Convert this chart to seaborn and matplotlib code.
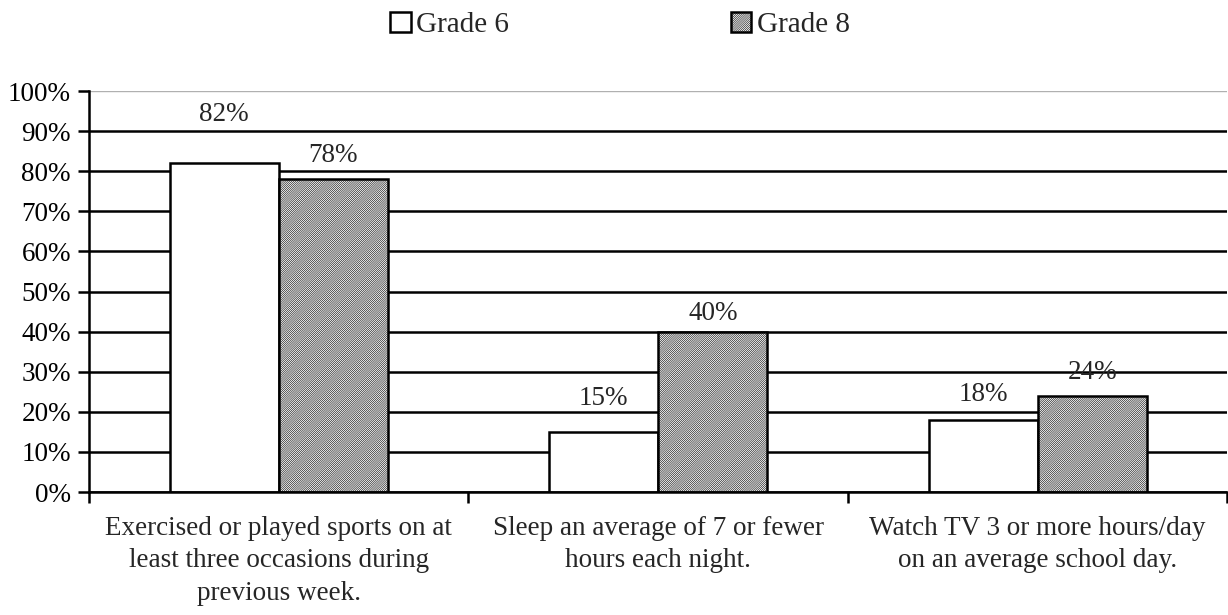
import matplotlib

matplotlib.use("Agg")

import matplotlib.pyplot as plt
import pandas as pd
import seaborn as sns
from matplotlib.patches import Patch

categories = [
    "Exercised or played sports on at\nleast three occasions during\nprevious week.",
    "Sleep an average of 7 or fewer\nhours each night.",
    "Watch TV 3 or more hours/day\non an average school day.",
]
grades = ["Grade 6", "Grade 8"]
grade6 = [82, 15, 18]
grade8 = [78, 40, 24]
y_ticks = [0, 10, 20, 30, 40, 50, 60, 70, 80, 90, 100]

# label offsets above bar tops (points), as placed in the original
label_offsets = {"Grade 6": [35, 24, 18], "Grade 8": [17, 13, 17]}

df = pd.DataFrame(
    {
        "category": categories * 2,
        "grade": [grades[0]] * 3 + [grades[1]] * 3,
        "value": grade6 + grade8,
    }
)

sns.set_theme(style="white")
plt.rcParams["font.family"] = ["Liberation Serif", "DejaVu Serif"]
plt.rcParams["hatch.linewidth"] = 0.4
FS = 19.5
HATCH = "/" * 16

fig = plt.figure(figsize=(12.28, 6.15), dpi=100)
ax = fig.add_axes([0.0725, 0.2, 0.927, 0.652])

sns.barplot(
    data=df,
    x="category",
    y="value",
    hue="grade",
    hue_order=grades,
    order=categories,
    palette={"Grade 6": "white", "Grade 8": "white"},
    edgecolor="black",
    linewidth=1.8,
    width=0.575,
    gap=0,
    legend=False,
    ax=ax,
)
for bar in ax.containers[1]:
    bar.set_hatch(HATCH)

for cont, grade in zip(ax.containers, grades):
    for bar, off in zip(cont, label_offsets[grade]):
        h = bar.get_height()
        ax.annotate(
            f"{h:.0f}%",
            (bar.get_x() + bar.get_width() / 2, h),
            xytext=(0, off),
            textcoords="offset points",
            ha="center",
            va="center",
            fontsize=FS,
        )

ax.set_xlim(-0.5, len(categories) - 0.5)
ax.set_ylim(0, 100)
ax.set_yticks(y_ticks)
ax.set_yticklabels([f"{v}%" for v in y_ticks], fontsize=FS)
ax.set_xticks([i - 0.5 for i in range(len(categories) + 1)])
ax.set_xticklabels([])
ax.set_xticks(range(len(categories)), minor=True)
ax.set_xticklabels(categories, minor=True, fontsize=FS, linespacing=1.4)
ax.tick_params(axis="x", which="major", length=8, width=1.8, direction="out", color="black", bottom=True)
ax.tick_params(axis="x", which="minor", length=0, pad=17)
ax.tick_params(axis="y", length=8, width=1.8, direction="out", color="black", left=True, pad=5, labelcolor="black")
ax.set_xlabel("")
ax.set_ylabel("")

ax.set_axisbelow(True)
ax.yaxis.grid(True, color="black", linewidth=1.8)
ax.get_ygridlines()[-1].set_color("#b0b0b0")
ax.get_ygridlines()[-1].set_linewidth(1.0)
for side in ["top", "right"]:
    ax.spines[side].set_visible(False)
for side in ["left", "bottom"]:
    ax.spines[side].set_color("black")
    ax.spines[side].set_linewidth(1.8)

handles = [
    Patch(facecolor="white", edgecolor="black", linewidth=1.8, label=grades[0]),
    Patch(facecolor="white", edgecolor="black", linewidth=1.8, hatch=HATCH, label=grades[1]),
]
fig.legend(
    handles=handles,
    loc="upper center",
    bbox_to_anchor=(0.505, 1.0),
    ncol=2,
    frameon=False,
    fontsize=21,
    handlelength=0.7,
    handleheight=0.7,
    handletextpad=0.2,
    columnspacing=7.6,
    borderaxespad=0,
)

fig.savefig("out.png", dpi=100)
